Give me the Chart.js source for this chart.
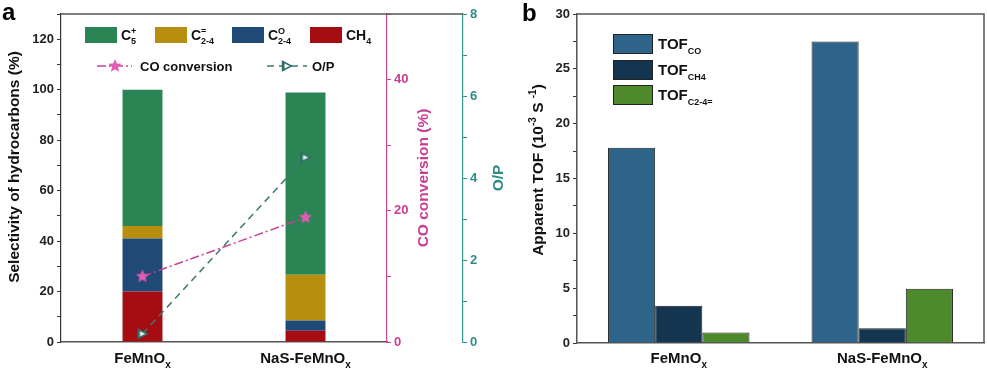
<!DOCTYPE html>
<html>
<head>
<meta charset="utf-8">
<script src="https://cdn.jsdelivr.net/npm/chart.js@4.4.1/dist/chart.umd.min.js"></script>
<style>
  html, body { margin: 0; padding: 0; background: #fff; }
  #wrap { position: relative; width: 987px; height: 374px; }
  #boxA { position: absolute; left: 0; top: 0; width: 508px; height: 374px; }
  #boxB { position: absolute; left: 508px; top: 0; width: 479px; height: 374px; }
</style>
</head>
<body>
<div id="wrap">
  <div id="boxA"><canvas id="chartA"></canvas></div>
  <div id="boxB"><canvas id="chartB"></canvas></div>
</div>
<script>
var catalysts = ["FeMnO_{x}", "NaS-FeMnO_{x}"];

// panel a: hydrocarbon selectivity (%), stacked bottom to top
var productNames = ["CH_{4}", "C_{2-4}^{O}", "C_{2-4}^{=}", "C_{5}^{+}"];
var ch4Sel = [20, 4.5];
var oxySel = [21, 4];
var olefinSel = [5, 18.2];
var c5Sel = [54, 72.2];
var coConversion = [10, 19];
var oToP = [0.2, 4.5];
var selTicks = [0, 20, 40, 60, 80, 100, 120];
var coTicks = [0, 20, 40];
var opTicks = [0, 2, 4, 6, 8];

// panel b: apparent TOF (10^-3 s^-1)
var tofNames = ["TOF_{CO}", "TOF_{CH4}", "TOF_{C2-4=}"];
var tofCO = [17.8, 27.5];
var tofCH4 = [3.4, 1.35];
var tofOlefin = [0.95, 4.95];
var tofTicks = [0, 5, 10, 15, 20, 25, 30];

var FONT = '"Liberation Sans", Arial, sans-serif';
Chart.defaults.font.family = FONT;

// text with _{sub} and ^{sup}
function richParts(str) {
  var parts = [], re = /([_^])\{([^}]*)\}|([^_^]+)/g, m;
  while ((m = re.exec(str))) {
    if (m[3]) parts.push({t: m[3], k: 'n'});
    else parts.push({t: m[2], k: m[1] === '_' ? 'sub' : 'sup'});
  }
  return parts;
}

function drawRich(ctx, str, x, y, size, color, align, smallScale) {
  var parts = richParts(str);
  var small = Math.round(size * (smallScale || 0.65));
  var items = [], cx = 0, prev = null;
  ctx.save();
  ctx.fillStyle = color;
  ctx.textBaseline = 'alphabetic';
  ctx.textAlign = 'left';
  parts.forEach(function (p) {
    var fs = p.k === 'n' ? size : small;
    ctx.font = 'bold ' + fs + 'px ' + FONT;
    var w = ctx.measureText(p.t).width;
    var start = cx;
    if (p.k === 'sup' && prev && prev.k === 'sub') {
      start = prev.x;
      cx = Math.max(prev.x + prev.w, start + w);
    } else {
      cx = start + w;
    }
    var dy = p.k === 'sub' ? size * 0.3 : (p.k === 'sup' ? -size * 0.42 : 0);
    var it = {t: p.t, k: p.k, x: start, w: w, fs: fs, dy: dy};
    items.push(it);
    prev = it;
  });
  var x0 = align === 'center' ? x - cx / 2 : (align === 'right' ? x - cx : x);
  items.forEach(function (it) {
    ctx.font = 'bold ' + it.fs + 'px ' + FONT;
    ctx.fillText(it.t, x0 + it.x, y + it.dy);
  });
  ctx.restore();
  return cx;
}

function drawRichUp(ctx, str, cx, cy, size, color) {
  ctx.save();
  ctx.translate(cx, cy);
  ctx.rotate(-Math.PI / 2);
  drawRich(ctx, str, 0, size * 0.36, size, color, 'center');
  ctx.restore();
}

function makeStar(r, fill) {
  var c = document.createElement('canvas');
  c.width = c.height = 2 * r + 2;
  var g = c.getContext('2d');
  g.beginPath();
  for (var i = 0; i < 10; i++) {
    var a = -Math.PI / 2 + i * Math.PI / 5, rr = i % 2 ? r * 0.45 : r;
    g.lineTo(r + 1 + rr * Math.cos(a), r + 1 + rr * Math.sin(a));
  }
  g.closePath();
  g.fillStyle = fill;
  g.fill();
  return c;
}

function makeTri(s) {
  var c = document.createElement('canvas');
  c.width = s + 3; c.height = s + 3;
  var g = c.getContext('2d');
  g.beginPath();
  g.moveTo(1.5, 1.5); g.lineTo(s + 1.5, s / 2 + 1.5); g.lineTo(1.5, s + 1.5);
  g.closePath();
  g.fillStyle = '#f2fbf9';
  g.fill();
  g.strokeStyle = '#2f6d69';
  g.lineWidth = 1.5;
  g.stroke();
  g.fillStyle = '#2f6d69';
  g.fillRect(1, 1.5, 2.5, s);
  return c;
}

var starImg = makeStar(7, '#e25cb4');
var triImg = makeTri(9);

var PINK = '#c93f93';
var TEAL = '#2e8c87';

var panelA = {
  id: 'panelA',
  afterDraw: function (chart) {
    var ctx = chart.ctx, area = chart.chartArea, xs = chart.scales.x, op = chart.scales.yOP;
    // top frame line
    ctx.save();
    ctx.strokeStyle = '#555';
    ctx.lineWidth = 1.5;
    ctx.beginPath();
    ctx.moveTo(area.left, area.top);
    ctx.lineTo(op.left, area.top);
    ctx.stroke();
    ctx.restore();

    catalysts.forEach(function (c, i) {
      drawRich(ctx, c, xs.getPixelForValue(i), 363, 15, '#111', 'center');
    });

    drawRichUp(ctx, 'Selectivity of hydrocarbons (%)', 13, 167, 15.5, '#111');
    drawRichUp(ctx, 'CO conversion (%)', chart.scales.yCO.left + 35, 178, 15.5, PINK);
    drawRichUp(ctx, 'O/P', op.left + 34, 178, 15.5, TEAL);

    // legend row 1: bar series, top of stack first
    var ds = chart.data.datasets;
    var cols = [85, 155, 232, 310];
    [3, 2, 1, 0].forEach(function (di, k) {
      ctx.fillStyle = ds[di].backgroundColor;
      ctx.fillRect(cols[k], 27, 32, 16);
      drawRich(ctx, productNames[di], cols[k] + 36, 40, 14, '#111', 'left');
    });

    // legend row 2: line series
    function lineSample(x1, x2, y, d, img, mx) {
      ctx.save();
      ctx.strokeStyle = d.borderColor;
      ctx.lineWidth = d.borderWidth;
      ctx.setLineDash(d.borderDash);
      ctx.beginPath();
      ctx.moveTo(x1, y); ctx.lineTo(x2, y);
      ctx.stroke();
      ctx.restore();
      ctx.drawImage(img, mx - img.width / 2, y - img.height / 2);
    }
    lineSample(97, 132, 66, ds[4], starImg, 115);
    drawRich(ctx, ds[4].label, 140, 70.5, 13, '#111', 'left');
    lineSample(267, 307, 66, ds[5], triImg, 287);
    drawRich(ctx, ds[5].label, 312, 70.5, 13, '#111', 'left');

    drawRich(ctx, 'a', 2, 20, 24, '#000', 'left');
  }
};

function tickCb(list) {
  return function (v) { return list.indexOf(v) >= 0 ? v : ''; };
}

new Chart(document.getElementById('chartA'), {
  type: 'bar',
  data: {
    labels: catalysts,
    datasets: [
      {label: productNames[0], data: ch4Sel, backgroundColor: '#a50d12', yAxisID: 'y', order: 3},
      {label: productNames[1], data: oxySel, backgroundColor: '#1f4a78', yAxisID: 'y', order: 3},
      {label: productNames[2], data: olefinSel, backgroundColor: '#b88e0e', yAxisID: 'y', order: 3},
      {label: productNames[3], data: c5Sel, backgroundColor: '#2a8453', yAxisID: 'y', order: 3},
      {type: 'line', label: 'CO conversion', data: coConversion, yAxisID: 'yCO',
        borderColor: '#c84292', borderWidth: 1.5, borderDash: [9, 3, 2, 3],
        pointStyle: starImg, pointRadius: 7, order: 1},
      {type: 'line', label: 'O/P', data: oToP, yAxisID: 'yOP',
        borderColor: '#3f7773', borderWidth: 1.5, borderDash: [7, 5],
        pointStyle: triImg, pointRadius: 6, order: 0}
    ]
  },
  options: {
    responsive: true,
    maintainAspectRatio: false,
    animation: false,
    layout: {padding: {top: 14, left: 0, right: 0, bottom: 0}},
    datasets: {bar: {barPercentage: 0.245, categoryPercentage: 1}},
    plugins: {legend: {display: false}, tooltip: {enabled: false}},
    scales: {
      x: {
        stacked: true,
        grid: {display: false},
        border: {color: '#555', width: 1.5},
        ticks: {display: false},
        afterFit: function (s) { s.height = 32; }
      },
      y: {
        stacked: true, position: 'left', min: 0, max: 130,
        ticks: {stepSize: 10, autoSkip: false, callback: tickCb(selTicks), color: '#222',
          font: {weight: 'bold', size: 13}, padding: 3},
        grid: {drawOnChartArea: false, tickLength: 4, color: '#333'},
        border: {color: '#333', width: 1.2},
        afterFit: function (s) { s.width = 61; }
      },
      yCO: {
        position: 'right', weight: 0, min: 0, max: 50,
        ticks: {stepSize: 10, autoSkip: false, callback: tickCb(coTicks), color: PINK,
          font: {weight: 'bold', size: 13}, padding: 3},
        grid: {drawOnChartArea: false, tickLength: 4, color: PINK},
        border: {color: '#c9489a', width: 1.2},
        afterFit: function (s) { s.width = 76; }
      },
      yOP: {
        position: 'right', weight: 1, min: 0, max: 8,
        ticks: {stepSize: 1, autoSkip: false, callback: tickCb(opTicks), color: TEAL,
          font: {weight: 'bold', size: 13}, padding: 3},
        grid: {drawOnChartArea: false, tickLength: 4, color: TEAL},
        border: {color: '#3a9690', width: 1.2},
        afterFit: function (s) { s.width = 45; }
      }
    }
  },
  plugins: [panelA]
});

var panelB = {
  id: 'panelB',
  afterDraw: function (chart) {
    var ctx = chart.ctx, area = chart.chartArea, xs = chart.scales.x;
    ctx.save();
    ctx.strokeStyle = '#555';
    ctx.lineWidth = 1.5;
    ctx.beginPath();
    ctx.moveTo(area.left, area.top);
    ctx.lineTo(area.right, area.top);
    ctx.lineTo(area.right, area.bottom);
    ctx.stroke();
    ctx.restore();

    catalysts.forEach(function (c, i) {
      drawRich(ctx, c, xs.getPixelForValue(i), 363, 15, '#111', 'center');
    });

    drawRichUp(ctx, 'Apparent TOF (10^{-3} S ^{-1})', 29, 170, 15.5, '#111');

    var ds = chart.data.datasets;
    [34, 60, 85].forEach(function (top, k) {
      ctx.fillStyle = ds[k].backgroundColor;
      ctx.fillRect(105, top, 40, 20);
      ctx.strokeStyle = '#222';
      ctx.lineWidth = 1;
      ctx.strokeRect(105.5, top + 0.5, 39, 19);
      drawRich(ctx, tofNames[k], 150, top + 15, 15, '#111', 'left', 0.6);
    });

    drawRich(ctx, 'b', 14, 21, 24, '#000', 'left');
  }
};

new Chart(document.getElementById('chartB'), {
  type: 'bar',
  data: {
    labels: catalysts,
    datasets: [
      {label: tofNames[0], data: tofCO, backgroundColor: '#2e6489'},
      {label: tofNames[1], data: tofCH4, backgroundColor: '#14354f'},
      {label: tofNames[2], data: tofOlefin, backgroundColor: '#4e8a2c'}
    ]
  },
  options: {
    responsive: true,
    maintainAspectRatio: false,
    animation: false,
    layout: {padding: {top: 14, left: 0, right: 3, bottom: 0}},
    datasets: {bar: {barPercentage: 1, categoryPercentage: 0.695, borderColor: '#222', borderWidth: 1}},
    plugins: {legend: {display: false}, tooltip: {enabled: false}},
    scales: {
      x: {
        grid: {display: false},
        border: {color: '#555', width: 1.5},
        ticks: {display: false},
        afterFit: function (s) { s.height = 31; }
      },
      y: {
        min: 0, max: 30,
        ticks: {stepSize: 2.5, autoSkip: false, callback: tickCb(tofTicks), color: '#222',
          font: {weight: 'bold', size: 13}, padding: 3},
        grid: {drawOnChartArea: false, tickLength: 4, color: '#333'},
        border: {color: '#555', width: 1.5},
        afterFit: function (s) { s.width = 69; }
      }
    }
  },
  plugins: [panelB]
});
</script>
</body>
</html>
